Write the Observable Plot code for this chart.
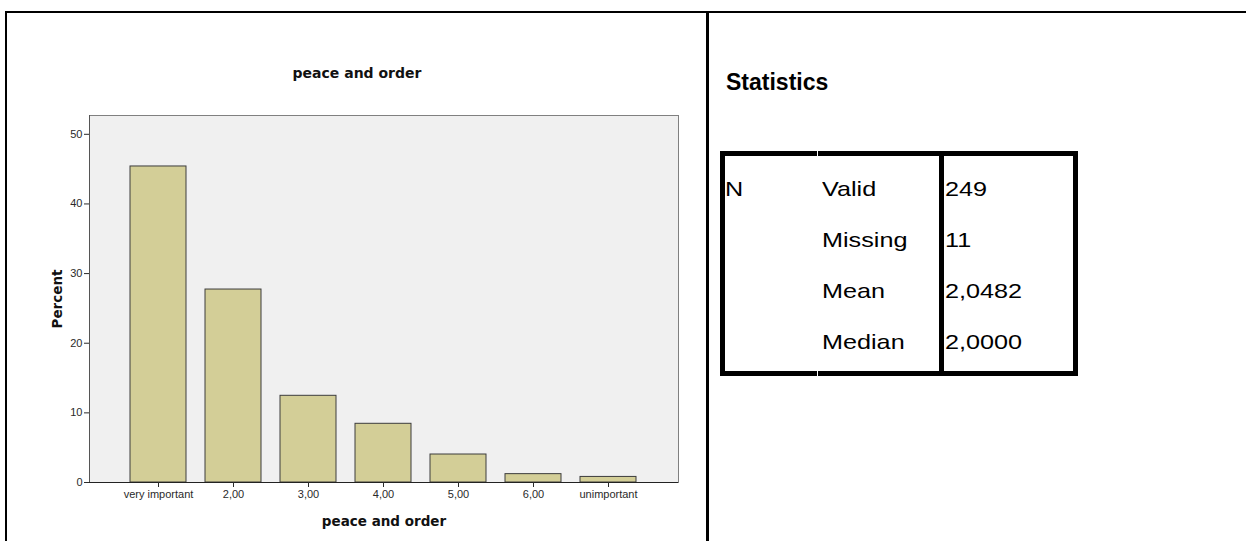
<!DOCTYPE html>
<html>
<head>
<meta charset="utf-8">
<script src="https://cdn.jsdelivr.net/npm/d3@7"></script>
<script src="https://cdn.jsdelivr.net/npm/@observablehq/plot@0.6"></script>
<style>
  html, body { margin: 0; padding: 0; background: #fff; }
  #page { position: relative; width: 1246px; height: 541px; overflow: hidden; background: #fff; }
  .line { position: absolute; background: #000; }
  .notch { position: absolute; background: #fff; }
  #chart { position: absolute; left: 0; top: 0; }
  #title { position: absolute; left: 257px; width: 200px; top: 63px; text-align: center;
           font-family: "DejaVu Sans", sans-serif; font-weight: bold; font-size: 14px; color: #111; line-height: 20px; }
  #stathead { position: absolute; left: 726px; top: 67px; font-family: "Liberation Sans", Arial, sans-serif;
              font-weight: bold; font-size: 23px; line-height: 30px; color: #000; }
  #stattable { position: absolute; left: 720px; top: 151px; width: 358px; height: 225px;
               box-sizing: border-box; border: 5px solid #000; }
  .cell { position: absolute; font-family: "Liberation Sans", Arial, sans-serif; font-size: 21px; line-height: 26px;
          color: #000; transform: scaleX(1.2); transform-origin: left center; white-space: nowrap; }
</style>
</head>
<body>
<div id="page">
  <div class="line" style="left:5px; top:11px; width:1241px; height:2px;"></div>
  <div class="line" style="left:5px; top:11px; width:2px; height:530px;"></div>
  <div class="line" style="left:706px; top:11px; width:3px; height:530px;"></div>
  <div id="chart"></div>
  <div id="title"></div>
  <div id="stathead"></div>
  <div id="stattable"></div>
</div>
<script>
// ---- data ----
const chartTitle = "peace and order";
const xLabel = "peace and order";
const yLabel = "Percent";
const categories = ["very important", "2,00", "3,00", "4,00", "5,00", "6,00", "unimportant"];
const percents = [45.38, 27.71, 12.45, 8.43, 4.02, 1.20, 0.80];
const yTicks = [0, 10, 20, 30, 40, 50];

const statsTitle = "Statistics";
const statGroups = ["N", "", "", ""];
const statNames = ["Valid", "Missing", "Mean", "Median"];
const statValues = ["249", "11", "2,0482", "2,0000"];

// ---- chart ----
const data = categories.map((c, i) => ({cat: c, pct: percents[i]}));

const chart = Plot.plot({
  width: 708,
  height: 541,
  marginLeft: 89,
  marginRight: 30,
  marginTop: 115,
  marginBottom: 59,
  style: {fontFamily: "'Liberation Sans', Arial, sans-serif", fontSize: "11px", color: "#2a2a2a", background: "transparent"},
  x: {domain: categories, paddingInner: 0.25, paddingOuter: 0.515, label: null},
  y: {domain: [0, 52.7], label: null},
  marks: [
    Plot.frame({fill: "#f0f0f0", stroke: "#808080"}),
    Plot.barY(data, {x: "cat", y: "pct", fill: "#d3ce97", stroke: "#3c3c3c", strokeWidth: 1}),
    Plot.frame({anchor: "left", stroke: "#555"}),
    Plot.ruleY([0], {stroke: "#222"}),
    Plot.axisY({ticks: yTicks, tickSize: 5, tickPadding: 2, label: null, tickFormat: d => String(d)}),
    Plot.axisX({tickSize: 5, tickPadding: 3, label: null}),
    Plot.text([yLabel], {frameAnchor: "left", textAnchor: "middle", lineAnchor: "middle", rotate: -90, dx: -32,
                         fontWeight: "bold", fontSize: 13.5, fontFamily: "DejaVu Sans", fill: "#111"}),
    Plot.text([xLabel], {frameAnchor: "bottom", lineAnchor: "middle", dy: 39, fontWeight: "bold", fontSize: 13.5,
                         fontFamily: "DejaVu Sans", fill: "#111"})
  ]
});
document.getElementById("chart").appendChild(chart);
document.getElementById("title").textContent = chartTitle;

// ---- statistics table ----
document.getElementById("stathead").textContent = statsTitle;
const table = document.getElementById("stattable");
const div = document.createElement("div");
div.className = "line";
div.style.cssText = "left:214px; top:-5px; width:5px; height:225px;";
table.appendChild(div);
[["-5px"], ["215px"]].forEach(([t]) => {
  const n = document.createElement("div");
  n.className = "notch";
  n.style.cssText = `left:92px; top:${t}; width:1px; height:5px;`;
  table.appendChild(n);
});
const rowCenters = [189, 240, 291, 342];
const colLefts = [725, 822, 945];
statNames.forEach((name, i) => {
  [statGroups[i], name, statValues[i]].forEach((txt, j) => {
    const c = document.createElement("div");
    c.className = "cell";
    c.textContent = txt;
    c.style.left = (colLefts[j] - 725) + "px";
    c.style.top = (rowCenters[i] - 156 - 13) + "px";
    table.appendChild(c);
  });
});
</script>
</body>
</html>
